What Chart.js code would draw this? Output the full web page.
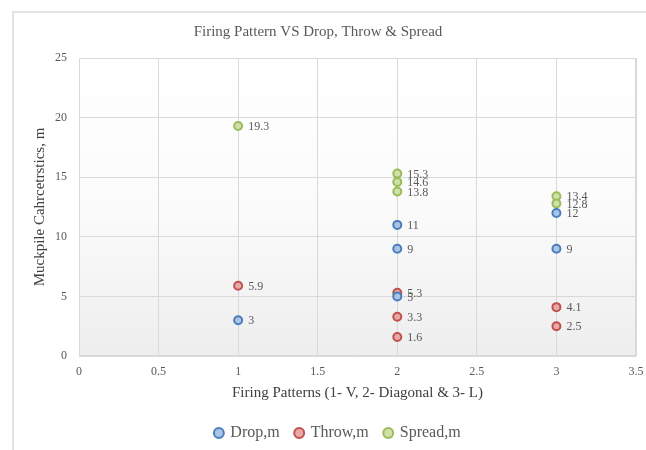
<!DOCTYPE html>
<html>
<head>
<meta charset="utf-8">
<script src="https://cdn.jsdelivr.net/npm/chart.js@4/dist/chart.umd.min.js"></script>
<style>
  html, body { margin: 0; padding: 0; background: #fff; }
  #wrap { position: relative; width: 646px; height: 450px; }
</style>
</head>
<body>
<div id="wrap"><canvas id="c" width="646" height="450"></canvas></div>
<script>
// Firing pattern (1 = V, 2 = Diagonal, 3 = L) against muckpile measurements
const dropX   = [1, 2, 2, 2, 3, 3];
const dropY   = [3, 11, 9, 5, 12, 9];
const throwX  = [1, 2, 2, 2, 3, 3];
const throwY  = [5.9, 5.3, 3.3, 1.6, 4.1, 2.5];
const spreadX = [1, 2, 2, 2, 3, 3];
const spreadY = [19.3, 15.3, 14.6, 13.8, 13.4, 12.8];

const xTicks = [0, 0.5, 1, 1.5, 2, 2.5, 3, 3.5];
const yTicks = [0, 5, 10, 15, 20, 25];

const pts = (xs, ys) => xs.map((x, i) => ({ x: x, y: ys[i] }));

const SERIF = '"Liberation Serif", "DejaVu Serif", serif';
const TEXT = '#595959';
const GRID = '#d9d9d9';

// outer frame of the chart and a soft gradient behind the plot area
const framePlugin = {
  id: 'frame',
  beforeDraw(chart) {
    const { ctx, chartArea: a } = chart;
    ctx.save();
    ctx.fillStyle = '#fff';
    ctx.fillRect(0, 0, chart.width, chart.height);
    ctx.strokeStyle = '#e3e3e3';
    ctx.lineWidth = 2;
    ctx.beginPath();
    ctx.moveTo(13, chart.height);
    ctx.lineTo(13, 12);
    ctx.lineTo(chart.width, 12);
    ctx.stroke();
    const g = ctx.createLinearGradient(0, a.top, 0, a.bottom);
    g.addColorStop(0, '#ffffff');
    g.addColorStop(0.5, '#fbfbfb');
    g.addColorStop(1, '#eeeeee');
    ctx.fillStyle = g;
    ctx.fillRect(a.left, a.top, a.right - a.left, a.bottom - a.top);
    ctx.restore();
  },
  afterDraw(chart) {
    const { ctx, chartArea: a } = chart;
    ctx.save();
    ctx.strokeStyle = GRID;
    ctx.lineWidth = 1;
    ctx.strokeRect(a.left + 0.5, a.top + 0.5, a.right - a.left - 1, a.bottom - a.top - 1);
    ctx.restore();
  }
};

// fixed-height legend strip, nudged right so it sits under the frame's centre
const legendPlacement = {
  id: 'legendPlacement',
  beforeLayout(chart) {
    const lg = chart.legend;
    if (lg && !lg.__fixed) {
      const fit = lg.fit.bind(lg);
      lg.fit = function () { fit(); this.height = 41; };
      lg.__fixed = true;
    }
  },
  afterLayout(chart) {
    const lg = chart.legend;
    if (lg) { lg.left += 20; lg.right += 20; }
  }
};

// value labels to the right of each marker
const valueLabels = {
  id: 'valueLabels',
  afterDatasetsDraw(chart) {
    const { ctx } = chart;
    ctx.save();
    ctx.font = '12px ' + SERIF;
    ctx.fillStyle = TEXT;
    ctx.textAlign = 'left';
    ctx.textBaseline = 'middle';
    chart.data.datasets.forEach((ds, di) => {
      const meta = chart.getDatasetMeta(di);
      meta.data.forEach((el, i) => {
        ctx.fillText(String(ds.data[i].y), el.x + 10, el.y + 1);
      });
    });
    ctx.restore();
  }
};

const series = (label, data, border, fill) => ({
  label: label,
  data: data,
  borderColor: border,
  backgroundColor: fill,
  pointRadius: 4,
  pointHoverRadius: 4,
  pointBorderWidth: 2,
  showLine: false
});

new Chart(document.getElementById('c'), {
  type: 'scatter',
  data: {
    datasets: [
      series('Drop,m', pts(dropX, dropY), '#4a7ebb', '#a9c4e6'),
      series('Throw,m', pts(throwX, throwY), '#c0504d', '#e8a8a6'),
      series('Spread,m', pts(spreadX, spreadY), '#9bbb59', '#cfe0a8')
    ]
  },
  options: {
    responsive: false,
    animation: false,
    layout: { padding: { left: 0, right: 10, top: 0, bottom: 0 } },
    plugins: {
      title: {
        display: true,
        text: 'Firing Pattern VS Drop, Throw & Spread',
        color: TEXT,
        font: { family: SERIF, size: 15, weight: 'normal' },
        padding: { top: 23, bottom: 17 }
      },
      legend: {
        position: 'bottom',
        labels: {
          usePointStyle: true,
          pointStyle: 'circle',
          boxWidth: 7,
          boxHeight: 7,
          padding: 16,
          color: TEXT,
          font: { family: SERIF, size: 16 }
        }
      },
      tooltip: { enabled: false }
    },
    scales: {
      x: {
        type: 'linear',
        min: 0,
        max: 3.5,
        afterBuildTicks(scale) { scale.ticks = xTicks.map(v => ({ value: v })); },
        afterFit(scale) {
          scale.height = 53;
          scale.paddingRight = 0;
          scale.paddingLeft = 0;
        },
        grid: { color: GRID, drawTicks: false },
        border: { display: false },
        ticks: {
          color: TEXT,
          padding: 9,
          maxRotation: 0,
          font: { family: SERIF, size: 12 },
          callback: v => String(v)
        },
        title: {
          display: true,
          text: 'Firing Patterns (1- V, 2- Diagonal & 3- L)',
          color: '#404040',
          font: { family: SERIF, size: 15 },
          padding: { top: 0, bottom: 7 }
        }
      },
      y: {
        type: 'linear',
        min: 0,
        max: 25,
        afterBuildTicks(scale) { scale.ticks = yTicks.map(v => ({ value: v })); },
        afterFit(scale) { scale.width = 79; },
        grid: { color: GRID, drawTicks: false },
        border: { display: false },
        ticks: {
          color: TEXT,
          padding: 12,
          font: { family: SERIF, size: 12 },
          callback: v => String(v)
        },
        title: {
          display: true,
          text: 'Muckpile Cahrcetrstics, m',
          color: '#404040',
          font: { family: SERIF, size: 15 },
          padding: { top: 31, bottom: 4 }
        }
      }
    }
  },
  plugins: [framePlugin, legendPlacement, valueLabels]
});
</script>
</body>
</html>
